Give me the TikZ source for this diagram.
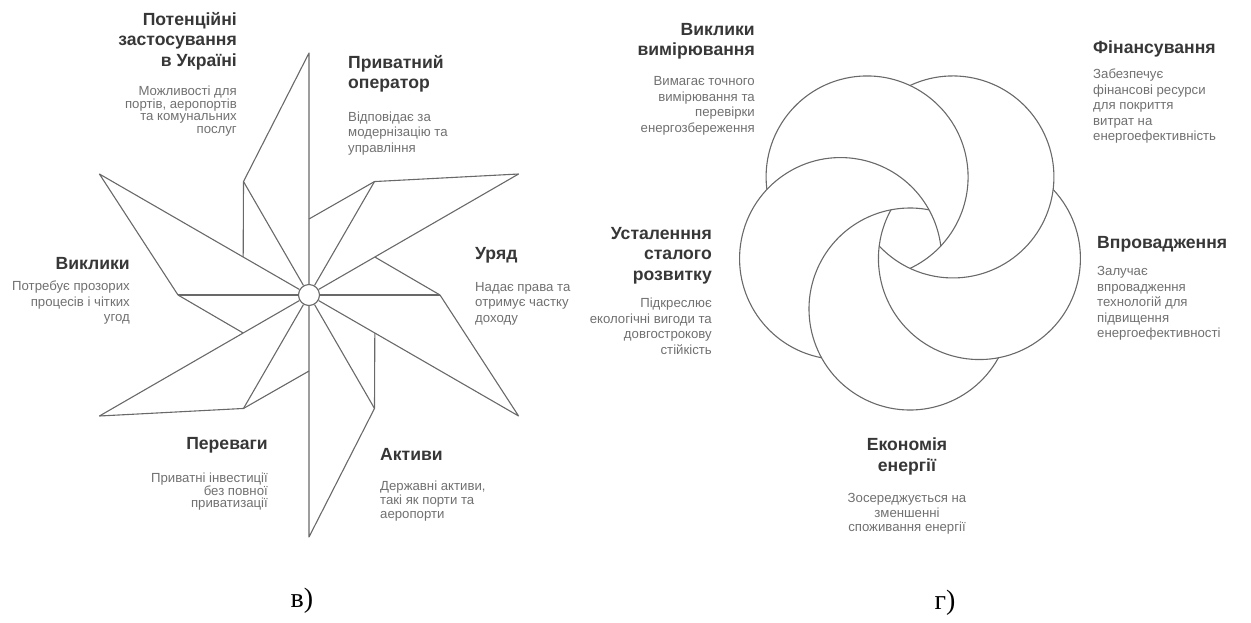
\documentclass[tikz,border=0pt]{standalone}
\usepackage{fontspec}
\setmainfont{Liberation Serif}
\setsansfont{Liberation Sans}
\usetikzlibrary{positioning}
\definecolor{edge}{RGB}{105,105,105}
\definecolor{head}{RGB}{55,55,55}
\definecolor{body}{RGB}{112,112,112}

\begin{document}
\begin{tikzpicture}[x=1pt, y=1pt,
    line/.style = {draw=edge, line width=1.1pt, line join=round},
    hub/.style = {draw=edge, line width=1.1pt, circle, fill=white, minimum size=21pt, inner sep=0pt},
    ttl/.style = {font={\sffamily\bfseries\fontsize{17.6}{20.5}\selectfont}, text=head, inner sep=0pt},
    desc/.style = {font={\sffamily\fontsize{13.2}{#1}\selectfont}, text=body, inner sep=0pt},
    desc/.default = 15.5,
    sublabel/.style = {font={\rmfamily\fontsize{28}{30}\selectfont}, inner sep=0pt}]
  \useasboundingbox (0,0) rectangle (1251,-622);

  % pinwheel (v)
  \node[hub] (hub) at (309,-295) {};
  \foreach \t [evaluate=\t as \a using {int(\t+30)}] in {30,90,...,330} {
    \coordinate (tip\t) at ([shift={(\t:242pt)}]hub.center);
    \coordinate (mid\t) at ([shift={(\a:131pt)}]hub.center);
    \coordinate (bend\t) at ([shift={(\t+60:76pt)}]hub.center);
    \draw[line] (hub.\t) -- (tip\t) -- (mid\t) -- (bend\t);
    \draw[line] (hub.\a) -- (mid\t);
  }

  \node[ttl, anchor=north east, align=right] (apply) at (237,-12) {Потенційні\\застосування\\в Україні};
  \node[desc=12.5, align=right, below left=16pt and 0pt of apply.south east] (applyd) {Можливості для\\портів, аеропортів\\та комунальних\\послуг};
  \node[ttl, anchor=north west, align=left] (oper) at (348,-55) {Приватний\\оператор};
  \node[desc, align=left, below right=19pt and 0pt of oper.south west] (operd) {Відповідає за\\модернізацію та\\управління};
  \node[ttl, anchor=north west] (gov) at (475,-247) {Уряд};
  \node[desc, align=left, below right=19pt and 0pt of gov.south west] (govd) {Надає права та\\отримує частку\\доходу};
  \node[ttl, anchor=north west] (asset) at (380,-448) {Активи};
  \node[desc=14, align=left, below right=20pt and 0pt of asset.south west] (assetd) {Державні активи,\\такі як порти та\\аеропорти};
  \node[ttl, anchor=north east] (gain) at (268,-437) {Переваги};
  \node[desc=12.5, align=right, below left=20pt and 0pt of gain.south east] (gaind) {Приватні інвестиції\\без повної\\приватизації};
  \node[ttl, anchor=north east] (risk) at (130,-257) {Виклики};
  \node[desc, align=right, below left=11pt and 0pt of risk.south east] (riskd) {Потребує прозорих\\процесів і чітких\\угод};
  \node[sublabel] (capv) at (302,-601) {в)};

  % flower (g)
  \coordinate (core) at (910,-236);
  \foreach \p [evaluate=\p as \s using \p+61.1, evaluate=\p as \e using \p-190.9] in {270,342,54,126,198} {
    \coordinate (petal\p) at ([shift={(\p:73pt)}]core);
    \draw[line] ([shift={(\s:101pt)}]petal\p) arc[start angle=\s, end angle=\e, radius=101pt];
  }

  \node[ttl, anchor=north east, align=right] (meas) at (755,-23) {Виклики\\вимірювання};
  \node[desc, align=right, below left=17pt and 0pt of meas.south east] (measd) {Вимагає точного\\вимірювання та\\перевірки\\енергозбереження};
  \node[ttl, anchor=north west] (fund) at (1093,-41) {Фінансування};
  \node[desc, align=left, below right=11pt and 0pt of fund.south west] (fundd) {Забезпечує\\фінансові ресурси\\для покриття\\витрат на\\енергоефективність};
  \node[ttl, anchor=north west] (impl) at (1097,-236) {Впровадження};
  \node[desc, align=left, below right=14pt and 0pt of impl.south west] (impld) {Залучає\\впровадження\\технологій для\\підвищення\\енергоефективності};
  \node[ttl, anchor=north east, align=right] (sust) at (712,-227) {Усталенння\\сталого\\розвитку};
  \node[desc, align=right, below left=14pt and 0pt of sust.south east] (sustd) {Підкреслює\\екологічні вигоди та\\довгострокову\\стійкість};
  \node[ttl, anchor=north, align=center] (save) at (907,-438) {Економія\\енергії};
  \node[desc=14.5, align=center, below=18pt of save.south] (saved) {Зосереджується на\\зменшенні\\споживання енергії};
  \node[sublabel] (capg) at (945,-603) {г)};
\end{tikzpicture}
\end{document}
